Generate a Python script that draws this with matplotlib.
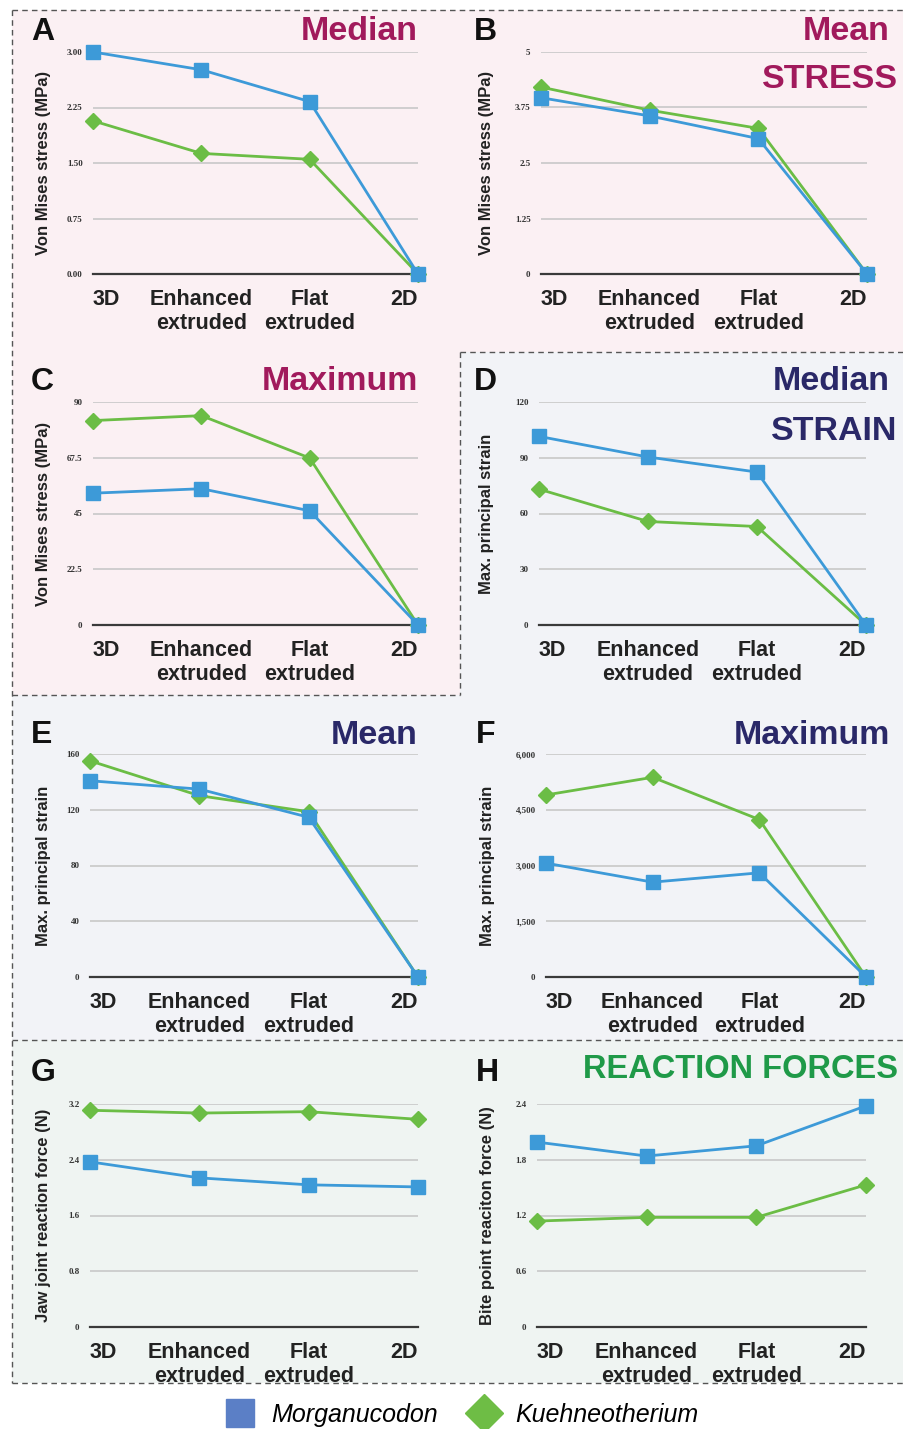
import matplotlib
matplotlib.use("Agg")
import matplotlib.pyplot as plt
from matplotlib.patches import Polygon
from matplotlib.lines import Line2D

plt.rcParams['font.family'] = ['Liberation Sans', 'DejaVu Sans']

W, H = 904, 1429

cats = ['3D', 'Enhanced\nextruded', 'Flat\nextruded', '2D']

# stress (MPa)
morg_med_stress = [3.00, 2.76, 2.33, 0.0]
kueh_med_stress = [2.07, 1.63, 1.55, 0.0]
morg_mean_stress = [3.97, 3.56, 3.05, 0.0]
kueh_mean_stress = [4.21, 3.69, 3.28, 0.0]
morg_max_stress = [53.2, 55.0, 46.1, 0.0]
kueh_max_stress = [82.5, 84.5, 67.4, 0.0]

# strain
morg_med_strain = [101.5, 90.4, 82.3, 0.0]
kueh_med_strain = [73.1, 55.7, 53.0, 0.0]
morg_mean_strain = [140.8, 134.8, 114.6, 0.0]
kueh_mean_strain = [155.1, 130.1, 118.6, 0.0]
morg_max_strain = [3063, 2552, 2803, 0]
kueh_max_strain = [4898, 5373, 4236, 0]

# reaction forces (N)
morg_jaw = [2.37, 2.14, 2.04, 2.01]
kueh_jaw = [3.11, 3.07, 3.09, 2.98]
morg_bite = [1.99, 1.84, 1.95, 2.38]
kueh_bite = [1.14, 1.18, 1.18, 1.53]

ticks_A = [0, 0.75, 1.5, 2.25, 3.0]
labels_A = ['0.00', '0.75', '1.50', '2.25', '3.00']
ticks_B = [0, 1.25, 2.5, 3.75, 5]
labels_B = ['0', '1.25', '2.5', '3.75', '5']
ticks_C = [0, 22.5, 45, 67.5, 90]
labels_C = ['0', '22.5', '45', '67.5', '90']
ticks_D = [0, 30, 60, 90, 120]
labels_D = ['0', '30', '60', '90', '120']
ticks_E = [0, 40, 80, 120, 160]
labels_E = ['0', '40', '80', '120', '160']
ticks_F = [0, 1500, 3000, 4500, 6000]
labels_F = ['0', '1,500', '3,000', '4,500', '6,000']
ticks_G = [0, 0.8, 1.6, 2.4, 3.2]
labels_G = ['0', '0.8', '1.6', '2.4', '3.2']
ticks_H = [0, 0.6, 1.2, 1.8, 2.4]
labels_H = ['0', '0.6', '1.2', '1.8', '2.4']

BLUE = '#3d9ad8'
GREEN = '#6bbd45'
STRESS_C = '#a11a5c'
STRAIN_C = '#2a2868'
FORCE_C = '#1f9a48'

fig = plt.figure(figsize=(W / 100, H / 100), dpi=100)


def fx(x):
    return x / W


def fy(y):
    return 1 - y / H


# background regions (drawn below the axes)
pink = [(12, 10), (904, 10), (904, 352), (460, 352), (460, 695), (12, 695)]
strain_bg = [(460, 352), (904, 352), (904, 1040), (12, 1040), (12, 695), (460, 695)]
force_bg = [(12, 1040), (904, 1040), (904, 1383), (12, 1383)]
for pts, col in [(pink, '#fbf0f3'), (strain_bg, '#f2f3f7'), (force_bg, '#eff4f2')]:
    fig.patches.append(Polygon([(fx(x), fy(y)) for x, y in pts], closed=True,
                               transform=fig.transFigure, facecolor=col,
                               edgecolor='none', zorder=-2))

dash = dict(color='#555555', lw=1.0, ls=(0, (4, 3)), transform=fig.transFigure,
            zorder=-1)
for (x0, y0), (x1, y1) in [((12, 10), (904, 10)), ((12, 10), (12, 1383)),
                           ((12, 695), (460, 695)), ((460, 352), (460, 695)),
                           ((460, 352), (904, 352)), ((12, 1040), (904, 1040)),
                           ((12, 1383), (904, 1383))]:
    fig.add_artist(Line2D([fx(x0), fx(x1)], [fy(y0), fy(y1)], **dash))


def panel(rect, morg, kueh, ticks, tlabels, ylabel, letter, ylab_x):
    l, r, t, b = rect
    ax = fig.add_axes([fx(l), fy(b), (r - l) / W, (b - t) / H])
    ax.patch.set_alpha(0)
    xs = range(len(cats))
    ax.plot(xs, kueh, color=GREEN, lw=2.0, marker='D', ms=8.5,
            clip_on=False, zorder=3)
    ax.plot(xs, morg, color=BLUE, lw=2.0, marker='s', ms=9.5,
            clip_on=False, zorder=4)
    ax.set_xlim(0, 3)
    ax.set_ylim(0, ticks[-1])
    ax.set_yticks(ticks)
    ax.set_yticklabels(tlabels, fontsize=6.5, family='Liberation Serif',
                       fontweight='bold', color='#333333')
    ax.set_xticks(list(xs))
    ax.set_xticklabels(cats, fontsize=15.5, fontweight='bold', color='#222222')
    xl = ax.get_xticklabels()
    xl[0].set_ha('left')
    xl[-1].set_ha('right')
    ax.tick_params(axis='y', length=0, pad=7.5)
    ax.tick_params(axis='x', length=0, pad=11)
    ax.grid(axis='y', color='#c8c8c8', lw=1.2)
    ax.set_axisbelow(True)
    for s in ['top', 'right', 'left']:
        ax.spines[s].set_visible(False)
    ax.spines['bottom'].set_color('#3a3a3a')
    ax.spines['bottom'].set_linewidth(1.6)
    ax.text((ylab_x - l) / (r - l), 0.5, ylabel, transform=ax.transAxes,
            rotation=90, ha='center', va='center', fontsize=12,
            fontweight='bold', color='#222222')
    fig.text(fx(letter[1]), fy(letter[2]), letter[0], fontsize=23,
             fontweight='bold', ha='left', va='center', color='#111111')
    return ax


vm = 'Von Mises stress (MPa)'
mps = 'Max. principal strain'
panel((93, 418, 52, 274), morg_med_stress, kueh_med_stress, ticks_A, labels_A,
      vm, ('A', 31, 32), 44)
panel((541, 867, 52, 274), morg_mean_stress, kueh_mean_stress, ticks_B, labels_B,
      vm, ('B', 474, 32), 487)
panel((93, 418, 402, 625), morg_max_stress, kueh_max_stress, ticks_C, labels_C,
      vm, ('C', 31, 382), 44)
panel((539, 866, 402, 625), morg_med_strain, kueh_med_strain, ticks_D, labels_D,
      mps, ('D', 474, 382), 487)
panel((90, 418, 754, 977), morg_mean_strain, kueh_mean_strain, ticks_E, labels_E,
      mps, ('E', 31, 735), 44)
panel((546, 866, 754, 977), morg_max_strain, kueh_max_strain, ticks_F, labels_F,
      mps, ('F', 476, 735), 488)
panel((90, 418, 1104, 1327), morg_jaw, kueh_jaw, ticks_G, labels_G,
      'Jaw joint reaction force (N)', ('G', 31, 1073), 44)
panel((537, 866, 1104, 1327), morg_bite, kueh_bite, ticks_H, labels_H,
      'Bite point reaciton force (N)', ('H', 476, 1073), 488)

# panel titles
titles = [('Median', 418, 32, STRESS_C), ('Mean', 890, 32, STRESS_C),
          ('STRESS', 898, 80, STRESS_C), ('Maximum', 418, 382, STRESS_C),
          ('Median', 890, 382, STRAIN_C), ('STRAIN', 897, 431, STRAIN_C),
          ('Mean', 418, 735, STRAIN_C), ('Maximum', 890, 735, STRAIN_C)]
for txt, x, y, c in titles:
    fig.text(fx(x), fy(y), txt, fontsize=24.5, fontweight='bold', color=c,
             ha='right', va='center')
fig.text(fx(898), fy(1069), 'REACTION FORCES', fontsize=23.5,
         fontweight='bold', color=FORCE_C, ha='right', va='center')

handles = [Line2D([], [], ls='none', marker='s', ms=20, color='#5b7fc6'),
           Line2D([], [], ls='none', marker='D', ms=19, color='#6ebd45')]
fig.legend(handles, ['Morganucodon', 'Kuehneotherium'], loc='center',
           bbox_to_anchor=(fx(462), fy(1415)), ncol=2, frameon=False,
           prop=dict(size=18, style='italic'), handlelength=1.1,
           handletextpad=0.7, columnspacing=1.3, borderpad=0)

fig.savefig('out.png', dpi=100)
